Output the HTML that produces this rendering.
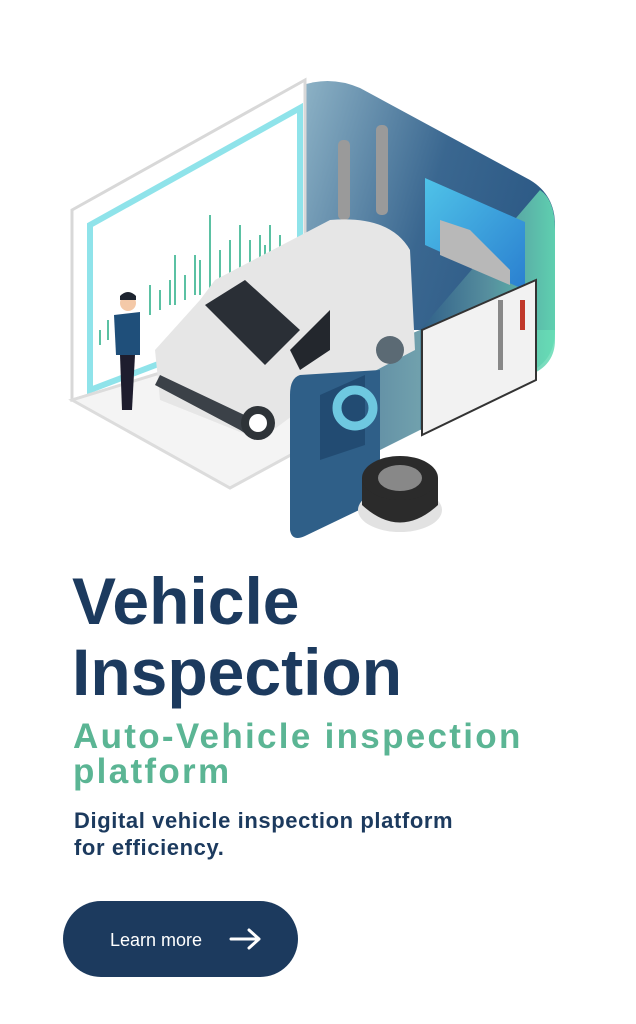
<!DOCTYPE html>
<html><head><meta charset="utf-8"><style>
body{margin:0;width:636px;height:1024px;background:#fff;overflow:hidden;position:relative;font-family:"Liberation Sans",sans-serif}
.t1{position:absolute;left:72px;font-size:66px;font-weight:bold;color:#1c3a5e;letter-spacing:0px;line-height:1}
.g{position:absolute;left:73px;font-size:35px;font-weight:bold;color:#5bb594;line-height:1;letter-spacing:2.3px}
.p{position:absolute;left:74px;font-size:22px;color:#1c3a5e;line-height:1;font-weight:bold;letter-spacing:0.6px}
.btn{position:absolute;left:63px;top:901px;width:235px;height:76px;border-radius:38px;background:#1c3a5e;color:#fff}
</style></head><body>
<svg width="636" height="560" style="position:absolute;left:0;top:0">
<defs>
<linearGradient id="bp" x1="0" y1="0" x2="1" y2="0.3"><stop offset="0" stop-color="#8fb4c7"/><stop offset="0.6" stop-color="#3a6790"/><stop offset="1" stop-color="#2d5a86"/></linearGradient>
<linearGradient id="gr" x1="0" y1="0" x2="1" y2="0"><stop offset="0" stop-color="#2f5f88"/><stop offset="0.5" stop-color="#5a93a0"/><stop offset="1" stop-color="#64dcb4"/></linearGradient>
<linearGradient id="sc" x1="0" y1="0" x2="1" y2="1"><stop offset="0" stop-color="#4fc3e8"/><stop offset="1" stop-color="#2a7fd0"/></linearGradient>
</defs>
<path d="M300 86 Q330 75 360 88 L530 180 Q555 195 555 225 L555 330 L300 330 Z" fill="url(#bp)"/>
<path d="M540 190 Q555 200 555 230 L555 330 Q555 360 530 372 L420 430 L420 330 Z" fill="url(#gr)" opacity="0.9"/>
<path d="M72 210 L305 80 L305 330 L72 400 Z" fill="#fff" stroke="#d8d8d8" stroke-width="3"/>
<path d="M90 225 L300 108 L300 310 L90 390 Z" fill="#fff" stroke="#8fe3ea" stroke-width="6"/>
<path d="M72 400 L230 488 L300 450 L300 330 Z" fill="#f4f4f4" stroke="#dcdcdc" stroke-width="3"/>
<g stroke="#5bc1a3" stroke-width="2">
<path d="M100 345v-15M108 340v-20M150 315v-30M175 305v-50M185 300v-25M210 290v-75M220 285v-35M240 275v-50M250 270v-30M270 260v-35M280 255v-20"/>
<path d="M160 310v-20M170 305v-25M195 295v-40M200 295v-35M230 280v-40M260 265v-30M265 265v-20"/>
</g>
<rect x="338" y="140" width="12" height="80" rx="5" fill="#9a9a9a"/><rect x="376" y="125" width="12" height="90" rx="5" fill="#9a9a9a"/>
<path d="M425 178 L525 222 L525 290 L425 245 Z" fill="url(#sc)"/>
<path d="M440 220 L470 230 L490 250 L510 270 L510 285 L440 255Z" fill="#b8b8b8"/>
<path d="M300 380 L420 330 L555 330 L555 340 Q555 365 530 375 L420 430 L380 450 L300 480 Z" fill="url(#gr)" opacity="0.85"/>
<path d="M215 280 L330 220 Q390 215 410 250 L415 350 L300 410 L260 440 L160 400 L155 350 L200 300 Z" fill="#e6e6e6"/>
<path d="M205 305 L245 280 L300 330 L265 365 Z" fill="#2a2f36"/>
<path d="M290 350 L330 310 L330 350 L300 370 Z" fill="#23272d"/>
<path d="M155 385 L240 430 L255 440 L255 420 L160 375 Z" fill="#3b4148"/>
<circle cx="258" cy="423" r="17" fill="#2e3338"/><circle cx="258" cy="423" r="9" fill="#fff"/>
<circle cx="390" cy="350" r="14" fill="#5b6a74"/>
<path d="M422 330 L536 280 L536 380 L422 435 Z" fill="#f2f2f2" stroke="#333" stroke-width="2"/>
<rect x="498" y="300" width="5" height="70" fill="#888"/><rect x="520" y="300" width="5" height="30" fill="#c0392b"/>
<path d="M300 375 Q290 378 290 395 L290 530 Q292 542 305 536 L380 500 L380 370 Z" fill="#2f5f88"/>
<path d="M320 395 L365 375 L365 445 L320 460 Z" fill="#224b72"/>
<circle cx="355" cy="408" r="18" fill="none" stroke="#6ec8e0" stroke-width="9"/>
<circle cx="128" cy="303" r="8" fill="#f4c9a8"/><path d="M120 296 Q128 288 136 296 L136 300 L120 300Z" fill="#1d2430"/>
<path d="M114 315 L140 312 L140 355 L116 355 Z" fill="#1f4f7a"/>
<path d="M120 355 L135 355 L132 410 L122 410 Z" fill="#1e1d2e"/>
<ellipse cx="400" cy="510" rx="42" ry="22" fill="#e2e2e2"/>
<path d="M362 478 L362 505 Q400 540 438 505 L438 478 Z" fill="#2b2b2b"/>
<ellipse cx="400" cy="478" rx="38" ry="22" fill="#2b2b2b"/>
<ellipse cx="400" cy="478" rx="22" ry="13" fill="#888"/>
</svg>
<div class="t1" style="top:568px">Vehicle</div>
<div class="t1" style="top:639px">Inspection</div>
<div class="g" style="top:719px">Auto-Vehicle inspection</div>
<div class="g" style="top:754px">platform</div>
<div class="p" style="top:810px">Digital vehicle inspection platform</div>
<div class="p" style="top:837px">for efficiency.</div>
<div class="btn"><span style="position:absolute;left:47px;top:29px;font-size:18px">Learn more</span>
<svg style="position:absolute;left:166px;top:26px" width="34" height="24"><path d="M2 12H30M20 3L30 12L20 21" stroke="#fff" stroke-width="3" fill="none" stroke-linecap="round" stroke-linejoin="round"/></svg></div>
</body></html>
